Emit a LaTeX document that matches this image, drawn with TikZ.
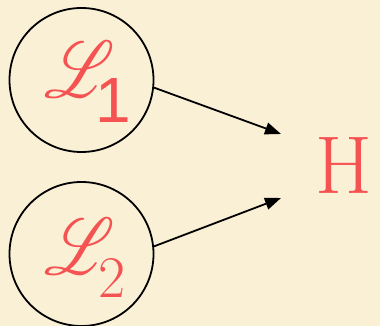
\documentclass[tikz,border=0pt]{standalone}
\usepackage{fontspec}
\usepackage{mathrsfs}
\usetikzlibrary{arrows.meta}
\newfontfamily\sfone{Liberation Sans}
\definecolor{bgbeige}{RGB}{250,240,214}
\definecolor{txtred}{RGB}{245,82,82}
\tikzset{
  circ/.style={circle, draw=black, line width=1.8pt, minimum size=144pt, inner sep=0pt},
  bigtxt/.style={text=txtred, inner sep=0pt},
  conn/.style={draw=black, line width=1.8pt, -{Triangle[length=16pt,width=12pt]}}
}
\begin{document}
\begin{tikzpicture}[x=1pt,y=1pt]
  \fill[bgbeige] (0,0) rectangle (380,326);
  \useasboundingbox (0,0) rectangle (380,326);
  \node[circ] (c1) at (81.5,246) {};
  \node[circ] (c2) at (81.5,72) {};
  \node[bigtxt, anchor=base west] (l1) at (44,228)
    {\scalebox{6.6}[8]{$\mathscr{L}$}\kern-19pt\raisebox{-25pt}{\sfone\fontsize{64}{64}\selectfont 1}};
  \node[bigtxt, anchor=base west] (l2) at (44,51)
    {\scalebox{6.6}[8]{$\mathscr{L}$}\kern-16pt\raisebox{-23pt}{\fontsize{59}{59}\selectfont 2}};
  \node[bigtxt, anchor=base west] (h) at (315,132) {\fontsize{82}{82}\selectfont H};
  \coordinate (t1) at (281,192);
  \coordinate (t2) at (281,128);
  \draw[conn] (c1.-6) -- (t1);
  \draw[conn] (c2.6) -- (t2);
\end{tikzpicture}
\end{document}
